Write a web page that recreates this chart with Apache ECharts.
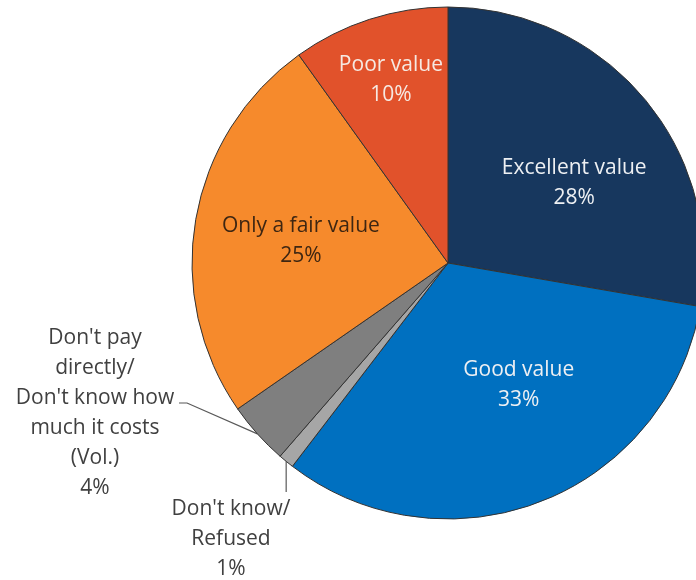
<!DOCTYPE html>
<html>
<head>
<meta charset="utf-8">
<script src="https://cdn.jsdelivr.net/npm/echarts@6/dist/echarts.min.js"></script>
<style>
  html, body { margin: 0; padding: 0; background: #ffffff; }
  #chart { width: 696px; height: 580px; }
</style>
</head>
<body>
<div id="chart"></div>
<script>
// Survey answers, clockwise from 12 o'clock
const categories = [
  'Excellent value',
  'Good value',
  "Don't know/\nRefused",
  "Don't pay\ndirectly/\nDon't know how\nmuch it costs\n(Vol.)",
  'Only a fair value',
  'Poor value'
];
const percents = [28, 33, 1, 4, 25, 10];

// Slice fills and label styling
const sliceColors = ['#17375E', '#0070C0', '#A6A6A6', '#7F7F7F', '#F68A2C', '#E1522B'];
const insideTextColors = {
  'Excellent value': '#EEF0F3',
  'Good value': '#EEF0F3',
  'Only a fair value': '#3E2612',
  'Poor value': '#F6E9E2'
};
// Nudges of the inside labels away from the default mid-radius spot
const insideOffsets = {
  'Excellent value': [26, 4],
  'Good value': [23, 0],
  'Only a fair value': [-18, 0],
  'Poor value': [-17, -58]
};

const FONT = '"Open Sans", "Liberation Sans", sans-serif';

const data = categories.map((name, i) => {
  const item = {
    name: name,
    value: percents[i],
    itemStyle: { color: sliceColors[i] }
  };
  if (insideOffsets[name]) {
    item.label = {
      position: 'inside',
      color: insideTextColors[name],
      offset: insideOffsets[name]
    };
    item.labelLine = { show: false };
  } else {
    item.label = { position: 'outside', color: '#404040' };
    item.labelLine = { show: true };
  }
  return item;
});

const chart = echarts.init(document.getElementById('chart'), null, { renderer: 'canvas' });

chart.setOption({
  animation: false,
  backgroundColor: '#ffffff',
  series: [{
    type: 'pie',
    center: [448, 263],
    radius: [0, 256],
    startAngle: 90,
    clockwise: true,
    avoidLabelOverlap: false,
    data: data,
    itemStyle: { borderColor: '#333333', borderWidth: 1 },
    label: {
      show: true,
      fontFamily: FONT,
      fontSize: 21,
      lineHeight: 30,
      align: 'center',
      formatter: p => p.name + '\n' + p.value + '%'
    },
    labelLine: {
      lineStyle: { color: '#595959', width: 1.2 }
    },
    labelLayout: function (params) {
      const name = categories[params.dataIndex];
      const edge = params.labelLinePoints ? params.labelLinePoints[0] : null;
      if (name.indexOf("Don't pay") === 0 && edge) {
        return {
          x: 95, y: 413, align: 'center', verticalAlign: 'middle',
          labelLinePoints: [edge, [187, 403], [179, 403]]
        };
      }
      if (name.indexOf("Don't know/") === 0 && edge) {
        return {
          x: 231, y: 539, align: 'center', verticalAlign: 'middle',
          labelLinePoints: [edge, [edge[0], 492], [edge[0], 492]]
        };
      }
      return {};
    }
  }]
});
</script>
</body>
</html>
